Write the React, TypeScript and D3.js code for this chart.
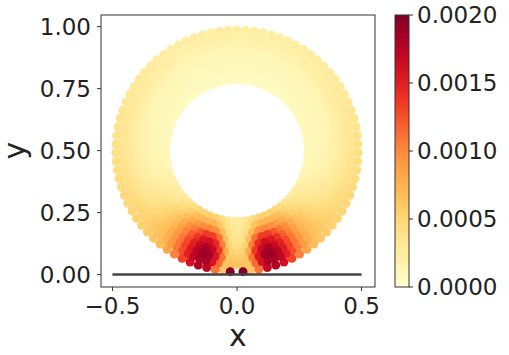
import React from 'react';
import * as d3 from 'd3';

// value field, by angle from the bottom (deg) and radius
const fieldAngles = [0, 3, 6, 9, 12, 15, 18, 22, 27, 33, 40, 50, 60, 75, 90, 120, 150, 180];
const fieldRadii = [0.28, 0.32, 0.36, 0.40, 0.44, 0.49];
// values in units of 1e-4
const fieldValues = [
  [2.5, 3, 3.5, 4, 6, 7],
  [2.5, 3, 3.5, 4.5, 6, 7],
  [3, 3.5, 4.5, 6, 6, 6],
  [3, 4.5, 7.5, 11.5, 12.5, 8],
  [4, 6, 11, 15, 16, 14],
  [4.5, 7.5, 13, 17, 18.5, 17.5],
  [5, 8, 14, 18, 19, 18],
  [5, 8, 13, 16, 17.5, 16.5],
  [5, 8, 11, 13.5, 14, 13],
  [4.5, 7, 9, 10, 10, 9],
  [3.5, 5, 6.5, 7, 7, 6.5],
  [2.5, 3.5, 4.5, 5, 5.5, 5.5],
  [2, 2.5, 3, 3.5, 4.5, 5],
  [1.2, 1.5, 2, 2.5, 3.5, 4.5],
  [1, 1.2, 1.5, 2, 3, 4],
  [0.8, 1, 1.2, 1.5, 2.5, 3],
  [0.6, 0.8, 1, 1.2, 1.8, 2.5],
  [0.6, 0.8, 1, 1.2, 1.8, 2.5],
];

// particle rings of the annulus (centre 0, 0.5)
const ringRadii = [0.285, 0.31, 0.335, 0.36, 0.385, 0.41, 0.435, 0.46, 0.487];
const ringCounts = [72, 78, 84, 90, 96, 102, 108, 114, 87];
const ringOffsets = [0.5, 0, 0.5, 0, 0.5, 0, 0.5, 0, 0];

// the two contact particles on the ground
const contactX = [-0.027, 0.024];
const contactY = [0.012, 0.012];
const contactV = [0.002, 0.002];

const xTicks = [-0.5, 0, 0.5];
const yTicks = [0, 0.25, 0.5, 0.75, 1];
const cbTicks = [0, 0.0005, 0.001, 0.0015, 0.002];

const W = 509;
const H = 355;
const FONT = 'DejaVu Sans, sans-serif';

function fieldAt(theta: number, r: number) {
  const a = Math.min(180, Math.abs(theta));
  let i = d3.bisectRight(fieldAngles, a) - 1;
  i = Math.max(0, Math.min(fieldAngles.length - 2, i));
  let j = d3.bisectRight(fieldRadii, r) - 1;
  j = Math.max(0, Math.min(fieldRadii.length - 2, j));
  const ta = Math.max(0, Math.min(1, (a - fieldAngles[i]) / (fieldAngles[i + 1] - fieldAngles[i])));
  const tr = Math.max(0, Math.min(1, (r - fieldRadii[j]) / (fieldRadii[j + 1] - fieldRadii[j])));
  const v0 = fieldValues[i][j] * (1 - tr) + fieldValues[i][j + 1] * tr;
  const v1 = fieldValues[i + 1][j] * (1 - tr) + fieldValues[i + 1][j + 1] * tr;
  return (v0 * (1 - ta) + v1 * ta) * 1e-4;
}

export default function App() {
  const x = d3.scaleLinear().domain([-0.546, 0.554]).range([101, 375]);
  const y = d3.scaleLinear().domain([-0.05, 1.047]).range([287, 15]);
  const color = d3.scaleSequential(d3.interpolateYlOrRd).domain([0, 0.002]);
  const cb = d3.scaleLinear().domain([0, 0.002]).range([287, 15]);

  const particles: { px: number; py: number; v: number }[] = [];
  ringRadii.forEach((r, k) => {
    const n = ringCounts[k];
    const last = k === ringRadii.length - 1;
    for (let m = 0; m < n; m++) {
      const th = ((m + ringOffsets[k]) / n) * 360 - 180; // deg from bottom
      if (last && Math.abs(th) < 3) continue;
      const rad = (th * Math.PI) / 180;
      particles.push({
        px: r * Math.sin(rad),
        py: 0.5 - r * Math.cos(rad),
        v: fieldAt(th, r),
      });
    }
  });
  contactX.forEach((cx, i) => particles.push({ px: cx, py: contactY[i], v: contactV[i] }));
  particles.sort((a, b) => a.v - b.v);

  const stops = d3.range(0, 1.0001, 0.05);

  return (
    <svg width={W} height={H} style={{ position: 'absolute', left: 0, top: 0, background: '#fff' }}>
      <defs>
        <linearGradient id="cbar" x1="0" y1="1" x2="0" y2="0">
          {stops.map((t) => (
            <stop key={t} offset={t} stopColor={color(t * 0.002)} />
          ))}
        </linearGradient>
      </defs>

      {/* particles */}
      <g>
        {particles.map((p, i) => (
          <circle key={i} cx={x(p.px)} cy={y(p.py)} r={4.5} fill={color(p.v)} />
        ))}
      </g>

      {/* ground line */}
      <line x1={x(-0.5)} x2={x(0.5)} y1={y(0)} y2={y(0)} stroke="#444" strokeWidth={2.5} />

      {/* frame */}
      <rect x={101} y={15} width={274} height={272} fill="none" stroke="#333" strokeWidth={1} />

      {/* x axis */}
      {xTicks.map((t) => (
        <g key={t}>
          <line x1={x(t)} x2={x(t)} y1={287} y2={291} stroke="#333" />
          <text x={x(t)} y={313.5} textAnchor="middle" fontFamily={FONT} fontSize={23} fill="#222">
            {t === 0 ? '0.0' : (t < 0 ? '\u2212' : '') + Math.abs(t).toFixed(1)}
          </text>
        </g>
      ))}
      <text x={238} y={346} textAnchor="middle" fontFamily={FONT} fontSize={30} fill="#222">x</text>

      {/* y axis */}
      {yTicks.map((t) => (
        <g key={t}>
          <line x1={97} x2={101} y1={y(t)} y2={y(t)} stroke="#333" />
          <text x={91} y={y(t)} dy="0.36em" textAnchor="end" fontFamily={FONT} fontSize={23} fill="#222">
            {t.toFixed(2)}
          </text>
        </g>
      ))}
      <text transform="translate(24.5,150.5) rotate(-90)" textAnchor="middle" fontFamily={FONT} fontSize={30} fill="#222">y</text>

      {/* colorbar */}
      <rect x={395} y={15} width={14} height={272} fill="url(#cbar)" stroke="#333" strokeWidth={1} />
      {cbTicks.map((t) => (
        <g key={t}>
          <line x1={409} x2={413} y1={cb(t)} y2={cb(t)} stroke="#333" />
          <text x={417} y={cb(t)} dy="0.36em" fontFamily={FONT} fontSize={23} fill="#222">
            {t.toFixed(4)}
          </text>
        </g>
      ))}
    </svg>
  );
}
